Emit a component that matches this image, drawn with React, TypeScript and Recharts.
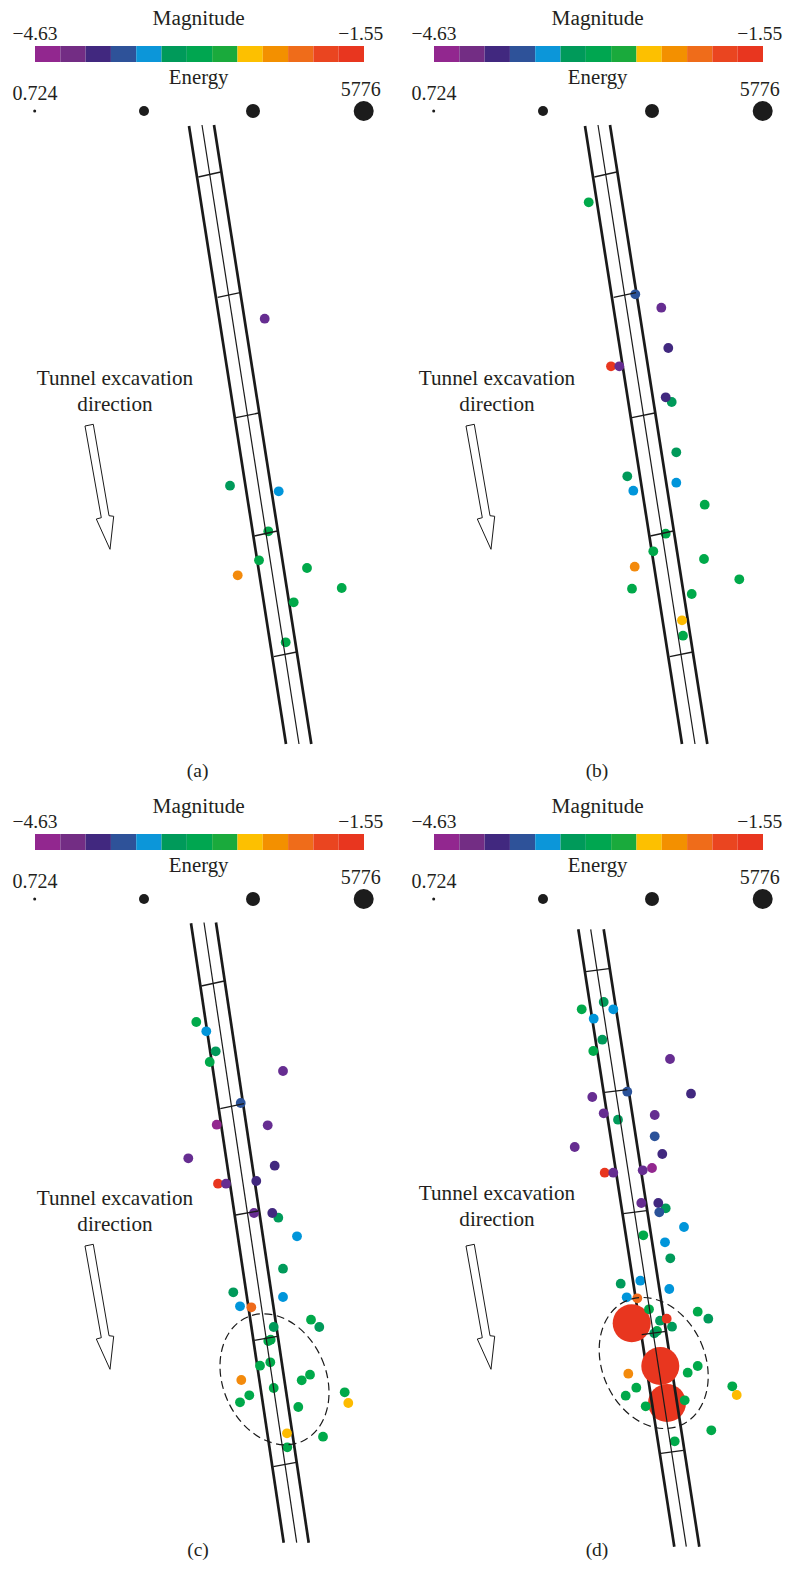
import React from "react";
import { ScatterChart, Scatter, XAxis, YAxis, ReferenceArea } from "recharts";

type Pt = { x: number; y: number };
type Dot = [number, number, number];
type Seg = [number, number, number, number];

const MAGNITUDE_COLORS = ["#92278f", "#662d91", "#41287f", "#2a5299", "#0095da", "#009a5a", "#00a94a", "#1aab40", "#fdbb00", "#f38a0c", "#ee6a1a", "#ea4520", "#e8361f"];
const LEGEND_COLORS = ["#92278f", "#732d84", "#41287f", "#2e5299", "#0c96d9", "#009a5a", "#00a650", "#1aaa3c", "#fdc000", "#f39000", "#ef6c1a", "#ea4520", "#e8361f"];
const ENERGY_LEGEND_RADII = [1.5, 5, 7, 10];
const ENERGY_LEGEND_X = [34.7, 144, 253, 363.7];

const DOTS_A: Dot[] = [
  [264.7, 318.7, 1], [230, 485.7, 5], [278.7, 491.3, 4], [268.3, 531.3, 6], [259, 560.3, 6], [307, 568, 6],
  [237.7, 575.3, 9], [341.7, 588, 6], [293.7, 602.3, 6], [285.7, 642.3, 6],
];
const DOTS_B: Dot[] = [
  [588.7, 202.3, 6], [635.3, 294.3, 3], [661.3, 307.7, 1], [668.3, 348, 2], [611, 366.3, 12], [619.3, 366.3, 1],
  [671.7, 402, 5], [665.7, 397.3, 2], [676.3, 452.3, 5], [627.3, 476.3, 5], [633.3, 490.7, 4], [676.3, 482.7, 4],
  [704.7, 504.7, 6], [665.7, 533.7, 6], [653.3, 551.3, 6], [704, 559, 6], [634.7, 566.7, 9], [632, 588.7, 6],
  [739.3, 579.3, 6], [691.7, 594, 6], [682, 620.3, 8], [683, 635.7, 6],
];
const DOTS_C: Dot[] = [
  [196.3, 1022, 6], [206.3, 1031.3, 4], [215.7, 1051.3, 5], [209.7, 1062, 6], [283, 1071, 1], [240.7, 1103, 3],
  [216.7, 1124.7, 0], [267.7, 1125.3, 1], [188.3, 1158.3, 1], [274.7, 1165.7, 2], [256.3, 1181, 2], [218, 1183.7, 12],
  [226, 1183.7, 1], [254, 1213, 1], [278.3, 1217.7, 5], [272.3, 1213, 2], [297, 1236.3, 4], [283, 1268.7, 5],
  [233.3, 1292.3, 5], [283, 1297, 4], [240, 1306.3, 4], [251.3, 1307.3, 10], [273.7, 1327, 5], [311, 1319.7, 6],
  [319.3, 1327, 5], [270.7, 1339.7, 6], [268.3, 1341, 6], [270.3, 1362.3, 6], [260, 1365.7, 6], [241.3, 1380, 9],
  [310, 1374.7, 6], [301.7, 1380.3, 6], [273.7, 1388, 6], [249.3, 1395.3, 6], [240, 1402.3, 6], [298.3, 1407, 6],
  [344.7, 1392.3, 6], [348.3, 1403, 8], [287, 1433.3, 8], [323, 1436.7, 6], [287.3, 1447.3, 6],
];
const BIG_DOTS_UNDER_RAILS_D: Dot[] = [[667, 1403, 12]];
const BIG_DOTS_OVER_RAILS_D: Dot[] = [[631.7, 1323.3, 12], [660.3, 1366, 12]];
const DOTS_D: Dot[] = [
  [581.7, 1009.3, 6], [603.7, 1002, 5], [613.3, 1009.3, 4], [593.7, 1018.7, 4], [602.3, 1039.7, 5], [593.3, 1051, 6],
  [670, 1059, 1], [691, 1093.7, 2], [627.3, 1091.7, 3], [592.3, 1097, 1], [603.7, 1113.3, 1], [618, 1119.7, 5],
  [654.7, 1115, 1], [654.7, 1136.3, 3], [662.3, 1154, 2], [574.7, 1147, 1], [604.7, 1172.7, 12], [613.3, 1172.7, 1],
  [652, 1168, 0], [642.7, 1170.3, 1], [641.3, 1203, 1], [665.7, 1208.3, 5], [658.3, 1203, 2], [659.3, 1212.3, 3],
  [684, 1227, 4], [643.3, 1235.3, 6], [665, 1242.3, 4], [670.3, 1258.3, 5], [620.7, 1283.7, 5], [640.3, 1280.7, 4],
  [669.3, 1289, 4], [626.7, 1297.3, 4], [637.3, 1298.3, 10], [649, 1309.3, 6], [697.7, 1311.7, 6], [708.3, 1318.7, 5],
  [660, 1320.7, 5], [672, 1326.7, 5], [666.7, 1318.7, 12], [657, 1331, 6], [654.3, 1333.3, 5], [628.3, 1373.7, 9],
  [697.7, 1366, 6], [687.7, 1372.7, 6], [636.3, 1387.7, 6], [625.7, 1395.7, 6], [645.7, 1406.3, 6], [684.7, 1400.3, 6],
  [732.3, 1386.3, 6], [736.7, 1395, 8], [711.3, 1430.3, 6], [674.7, 1441.3, 6],
];

const RAILS_A: Seg[] = [[189, 126, 286, 744], [214, 125, 311.3, 744]];
const CENTER_A: Seg = [202, 125, 299, 744];
const TICKS_A: Seg[] = [[198.3, 177, 220.7, 172], [217.7, 297.3, 240, 292.7], [236, 417.7, 258.7, 413], [254.3, 536, 277.3, 531], [273.7, 656.7, 296.7, 652]];
const RAILS_B: Seg[] = [[585, 126, 682, 744], [610, 125, 707.3, 744]];
const CENTER_B: Seg = [598, 125, 695, 744];
const TICKS_B: Seg[] = [[594.3, 177, 616.7, 172], [613.7, 297.3, 636, 292.7], [632, 417.7, 654.7, 413], [650.3, 536, 673.3, 531], [669.7, 656.7, 692.7, 652]];
const RAILS_C: Seg[] = [[191, 923.3, 283.7, 1542.7], [216, 922.5, 308.7, 1542.7]];
const CENTER_C: Seg = [204, 922.5, 296.7, 1542.7];
const TICKS_C: Seg[] = [[201.3, 986, 224.3, 981], [220.3, 1108.7, 244, 1103.7], [235.7, 1215, 258.3, 1211], [254.3, 1340.3, 277.3, 1336.3], [273.3, 1466.7, 296.3, 1462.3]];
const RAILS_D: Seg[] = [[578.3, 929.3, 674.3, 1546.7], [603.7, 929.3, 699.3, 1546.7]];
const CENTER_D: Seg = [590.7, 929.3, 686.3, 1546.7];
const TICKS_D: Seg[] = [[585.7, 971.7, 609, 968.7], [604.7, 1092.3, 627.3, 1089.7], [623.3, 1213.7, 646.7, 1210.7], [641.7, 1334.7, 666, 1331.3], [661, 1453.3, 683.3, 1450.3]];

const ELLIPSE_CENTERS: Pt[] = [{ x: 274.5, y: 1379.3 }, { x: 653.7, y: 1363 }];

const ARROW_OUTLINE: [number, number][] = [[85, 426], [93.3, 424.3], [109, 515.7], [113.7, 516.3], [110, 549.3], [96.3, 519], [101.3, 517.7], [85, 426]];
const ARROW_OFFSETS: [number, number][] = [[0, 0], [381, 0], [0, 820], [381, 820]];
const DIRECTION_TEXT_ORIGINS: [number, number][] = [[0, 0], [382, 0], [0, 820], [382, 815]];

const PANEL_LETTERS = ["(a)", "(b)", "(c)", "(d)"];
const PANEL_LETTER_X = [197.7, 597, 198, 597];
const PANEL_LETTER_Y = [777, 777, 1556, 1556];
const LEGEND_OFFSETS: [number, number][] = [[0, 0], [399, 0], [0, 788], [399, 788]];

const INK = "#231f20";
const FONT = "'Liberation Serif', serif";

const toPts = (s: Seg): Pt[] => [{ x: s[0], y: s[1] }, { x: s[2], y: s[3] }];
const toDots = (d: Dot[]) => d.map(([x, y, level]) => ({ x, y, level }));

const NoPoint = () => null;

const Polyline = ({ points, width }: { points: Pt[]; width: number }) => (
  <Scatter data={points} isAnimationActive={false} shape={NoPoint as any} line={{ stroke: "#1a1a1a", strokeWidth: width }} lineType="joint" />
);

const Dots = ({ dots, r }: { dots: Dot[]; r: number }) => (
  <Scatter
    data={toDots(dots)}
    isAnimationActive={false}
    shape={((p: any) => <circle cx={p.cx} cy={p.cy} r={r} fill={MAGNITUDE_COLORS[p.payload.level]} />) as any}
  />
);

const Label = ({ x, y, text, size }: { x: number; y: number; text: string; size: number }) => (
  <Scatter
    data={[{ x, y, text }]}
    isAnimationActive={false}
    shape={((p: any) => (
      <text x={p.cx} y={p.cy} textAnchor="middle" fontFamily={FONT} fontSize={size} fill={INK}>
        {p.payload.text}
      </text>
    )) as any}
  />
);

const PANEL_DATA = [
  { rails: RAILS_A, center: CENTER_A, ticks: TICKS_A, dots: DOTS_A, under: [] as Dot[], over: [] as Dot[] },
  { rails: RAILS_B, center: CENTER_B, ticks: TICKS_B, dots: DOTS_B, under: [] as Dot[], over: [] as Dot[] },
  { rails: RAILS_C, center: CENTER_C, ticks: TICKS_C, dots: DOTS_C, under: [] as Dot[], over: [] as Dot[] },
  { rails: RAILS_D, center: CENTER_D, ticks: TICKS_D, dots: DOTS_D, under: BIG_DOTS_UNDER_RAILS_D, over: BIG_DOTS_OVER_RAILS_D },
];

export default function App() {
  const cell = (364 - 35) / LEGEND_COLORS.length;
  return (
    <div style={{ position: "absolute", left: 0, top: 0, width: 786, height: 1588 }}>
      <ScatterChart width={786} height={1588} margin={{ top: 0, right: 0, bottom: 0, left: 0 }}>
        <XAxis type="number" dataKey="x" domain={[0, 786]} hide allowDataOverflow />
        <YAxis type="number" dataKey="y" domain={[0, 1588]} reversed hide allowDataOverflow />

        {LEGEND_OFFSETS.map(([dx, dy]) =>
          LEGEND_COLORS.map((c, i) => (
            <ReferenceArea key={`${dx}-${dy}-${i}`} x1={35 + dx + i * cell} x2={35 + dx + (i + 1) * cell} y1={46 + dy} y2={62 + dy} fill={c} fillOpacity={1} stroke="none" />
          ))
        )}

        {LEGEND_OFFSETS.map(([dx, dy], k) => (
          <React.Fragment key={k}>
            <Label x={198.7 + dx} y={25 + dy} text="Magnitude" size={21.3} />
            <Label x={35 + dx} y={40 + dy} text="−4.63" size={19.5} />
            <Label x={360.8 + dx} y={40 + dy} text="−1.55" size={19.5} />
            <Label x={198.7 + dx} y={84 + dy} text="Energy" size={20.8} />
            <Label x={35 + dx} y={99.7 + dy} text="0.724" size={20} />
            <Label x={360.7 + dx} y={96 + dy} text="5776" size={20} />
            {ENERGY_LEGEND_X.map((x, i) => (
              <Scatter
                key={i}
                data={[{ x: x + dx, y: 111 + dy }]}
                isAnimationActive={false}
                shape={((p: any) => <circle cx={p.cx} cy={p.cy} r={ENERGY_LEGEND_RADII[i]} fill="#1c1c1c" />) as any}
              />
            ))}
          </React.Fragment>
        ))}

        {DIRECTION_TEXT_ORIGINS.map(([dx, dy], k) => (
          <React.Fragment key={k}>
            <Label x={115 + dx} y={385 + dy} text="Tunnel excavation" size={21.2} />
            <Label x={115 + dx} y={411 + dy} text="direction" size={21.2} />
          </React.Fragment>
        ))}

        {ARROW_OFFSETS.map(([dx, dy], k) => (
          <Polyline key={k} points={ARROW_OUTLINE.map(([x, y]) => ({ x: x + dx, y: y + dy }))} width={1} />
        ))}

        {PANEL_DATA.map((p, k) => (
          <React.Fragment key={k}>
            {p.under.length > 0 && <Dots dots={p.under} r={19} />}
            {p.rails.map((s, i) => (
              <Polyline key={i} points={toPts(s)} width={2.7} />
            ))}
            {p.over.length > 0 && <Dots dots={p.over} r={19} />}
            <Dots dots={p.dots} r={4.9} />
            <Polyline points={toPts(p.center)} width={1.2} />
            {p.ticks.map((s, i) => (
              <Polyline key={i} points={toPts(s)} width={1.3} />
            ))}
          </React.Fragment>
        ))}

        <Scatter
          data={ELLIPSE_CENTERS}
          isAnimationActive={false}
          shape={((p: any) => (
            <ellipse cx={p.cx} cy={p.cy} rx={51.5} ry={67.9} fill="none" stroke="#1a1a1a" strokeWidth={1.2} strokeDasharray="8 4.5" transform={`rotate(-23.8 ${p.cx} ${p.cy})`} />
          )) as any}
        />

        {PANEL_LETTERS.map((t, i) => (
          <Label key={t} x={PANEL_LETTER_X[i]} y={PANEL_LETTER_Y[i]} text={t} size={19.5} />
        ))}
      </ScatterChart>
    </div>
  );
}
